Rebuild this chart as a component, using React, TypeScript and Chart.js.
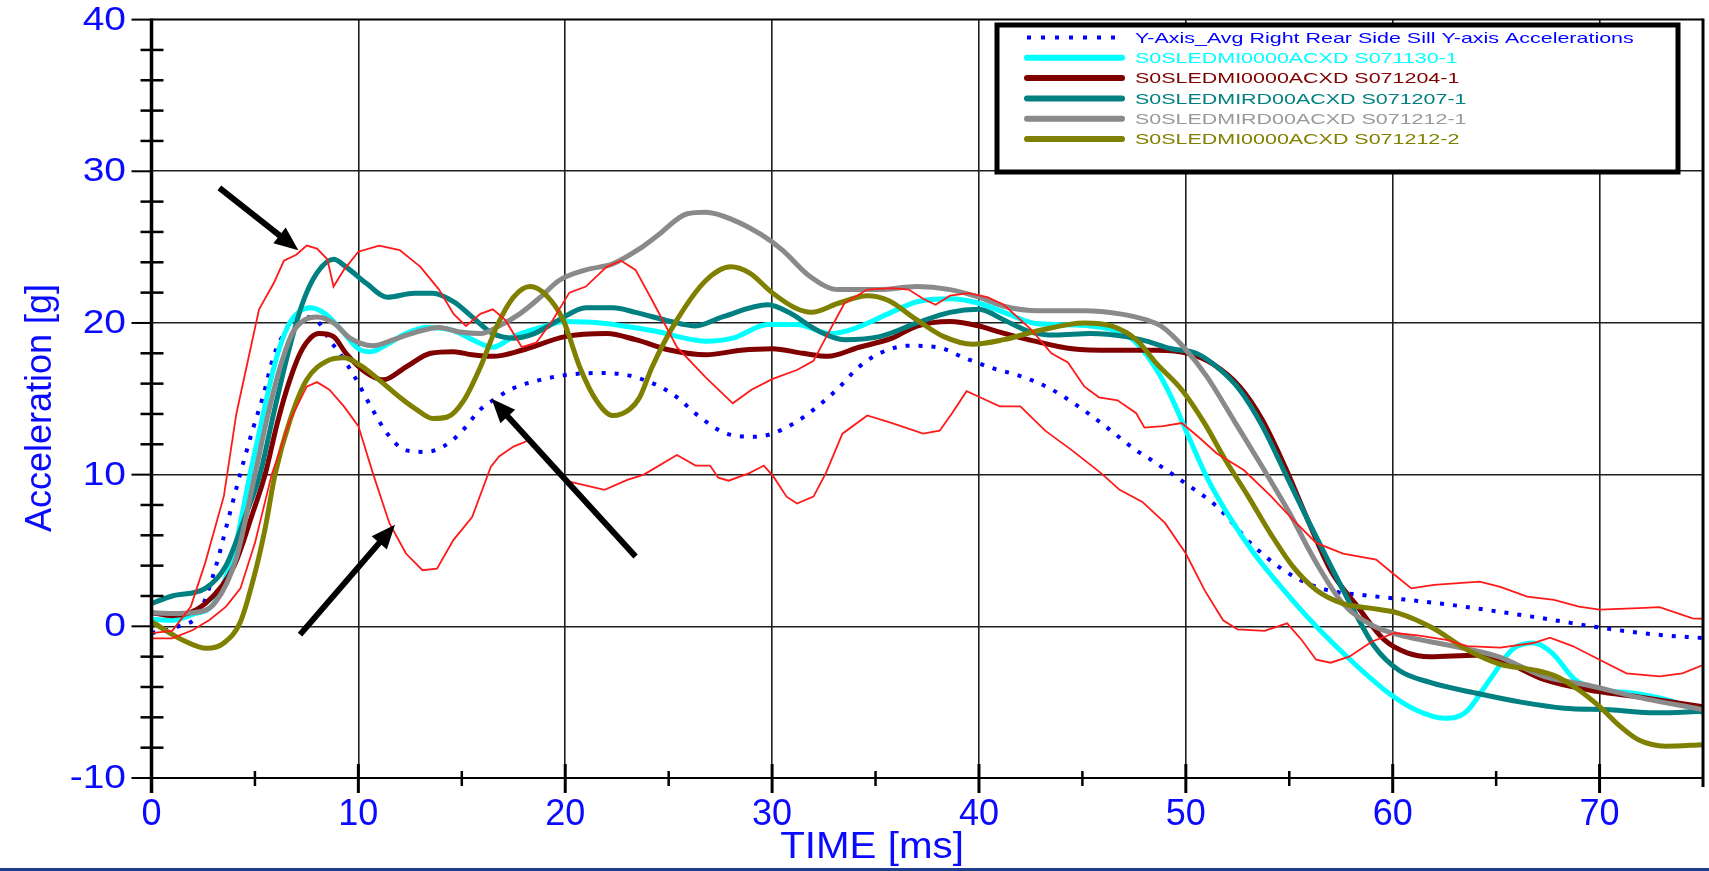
import React, { useEffect, useRef } from "react";
import { Chart, registerables } from "chart.js";

Chart.register(...registerables);

// ---------- axis ranges / ticks ----------
const X_MIN = 0;
const X_MAX = 75;
const Y_MIN = -10;
const Y_MAX = 40;
const X_GRID = [10, 20, 30, 40, 50, 60, 70];
const Y_GRID = [0, 10, 20, 30];
const X_LABELS = [0, 10, 20, 30, 40, 50, 60, 70];
const Y_LABELS = [-10, 0, 10, 20, 30, 40];
const X_MINOR = [5, 15, 25, 35, 45, 55, 65];
const Y_MINOR = [-8, -6, -4, -2, 2, 4, 6, 8, 12, 14, 16, 18, 22, 24, 26, 28, 32, 34, 36, 38];

const X_TITLE = "TIME [ms]";
const Y_TITLE = "Acceleration [g]";

// ---------- series (time ms, acceleration g) ----------
const AVG_LABEL = "Y-Axis_Avg Right Rear Side Sill Y-axis Accelerations";
const AVG_T = [0, 1.3, 2.3, 3.1, 3.7, 4.28, 4.9, 5.4, 5.9, 6.4, 6.85, 7.5, 8.1, 8.6, 9.1, 9.8, 10.6, 11.4, 12.3, 13.3, 14.1, 14.9, 15.9, 16.5, 17.5, 18.8, 20.2, 21.7, 23.2, 25.1, 26.6, 27.8, 29.2, 30, 31.2, 32.2, 33.2, 34.2, 35.2, 36.6, 38, 39.3, 40.7, 42, 43.4, 44.7, 46.1, 47.6, 48.3, 49.9, 51.5, 53.3, 55.2, 56.8, 58.5, 60, 62.9, 65.1, 67.25, 70.1, 72.7, 75];
const AVG_G = [-0.45, 0, 0.86, 3.9, 7, 10, 13, 15.2, 17.8, 19.3, 20.2, 20.4, 20, 18.9, 18, 16.5, 14.5, 12.7, 11.6, 11.5, 11.85, 12.7, 14.3, 14.9, 15.7, 16.25, 16.6, 16.7, 16.5, 15.4, 13.7, 12.7, 12.5, 12.7, 13.5, 14.5, 15.7, 17.1, 18.0, 18.5, 18.4, 17.7, 17.0, 16.5, 15.7, 14.6, 13.2, 11.6, 11, 9.5, 7.9, 5.26, 3.3, 2.4, 2.07, 1.85, 1.4, 0.97, 0.53, -0.1, -0.54, -0.77];

const CYAN_LABEL = "S0SLEDMI0000ACXD S071130-1";
const CYAN_T = [0, 1, 2, 3, 4, 4.76, 5.4, 6, 6.6, 7.2, 7.7, 8.4, 9.2, 10, 10.6, 11.4, 12.3, 13.3, 14.6, 15.5, 16.5, 17.5, 18.8, 20, 21.7, 24.2, 26.8, 28.1, 29.8, 31.2, 32.8, 33.9, 35.6, 37, 38.6, 40, 41.4, 42.6, 43.7, 45.4, 46.8, 47.6, 48.5, 49.3, 50.2, 51.1, 52, 53.3, 54.6, 56.3, 58.1, 59.8, 61.1, 62.5, 63.5, 64.7, 65.8, 66.8, 67.7, 68.8, 70.1, 71.6, 73.4, 75];
const CYAN_G = [0.45, 0.4, 0.8, 1.5, 5, 10, 14, 17.5, 19.8, 20.8, 21, 20.6, 19.5, 18.3, 18.1, 18.6, 19.3, 19.7, 19.5, 18.9, 18.4, 19.1, 19.7, 20.1, 20.0, 19.5, 18.8, 19.0, 19.9, 19.9, 19.3, 19.6, 20.6, 21.4, 21.6, 21.3, 20.6, 20, 19.9, 19.8, 19.4, 18.7, 17.1, 15.1, 12.3, 9.6, 7.45, 4.8, 2.6, 0, -2.4, -4.4, -5.5, -6.06, -5.7, -3.5, -1.5, -1.1, -1.75, -3.5, -4.2, -4.4, -4.9, -5.7];

const DRED_LABEL = "S0SLEDMI0000ACXD S071204-1";
const DRED_T = [0, 1, 2.6, 4, 4.9, 5.49, 6.1, 6.7, 7.3, 8.1, 8.8, 9.4, 10.4, 11.2, 12.3, 13.5, 14.6, 15.5, 16.5, 17.9, 20, 22, 23.4, 25.1, 26.8, 28.5, 30, 31.5, 32.7, 34.2, 35.8, 37, 38.6, 40, 41, 42.7, 44.5, 46.5, 48.6, 50.1, 51.3, 52.6, 53.7, 54.8, 55.9, 57, 58.3, 59.6, 60.7, 61.8, 64, 65.5, 67.3, 69.5, 71.6, 75];
const DRED_G = [0.9, 0.7, 1.5, 4, 7.5, 10, 13.5, 16.3, 18.3, 19.3, 19.1, 18, 16.7, 16.25, 17.1, 18, 18.1, 17.9, 17.8, 18.2, 19.1, 19.3, 18.9, 18.2, 17.9, 18.2, 18.3, 18, 17.8, 18.4, 19, 19.8, 20.1, 19.8, 19.4, 18.8, 18.3, 18.2, 18.2, 18, 17.3, 15.8, 13.6, 10.5, 7, 3.7, 1.3, -0.9, -1.75, -2, -1.9, -2.4, -3.5, -4.2, -4.6, -5.3];

const TEAL_LABEL = "S0SLEDMIRD00ACXD S071207-1";
const TEAL_T = [0, 1, 2.6, 3.6, 4.6, 5.24, 5.9, 6.6, 7.3, 8, 8.8, 9.4, 10.4, 11.4, 12.7, 13.6, 14.6, 15.5, 16.5, 17.5, 18.5, 19.7, 21, 22.3, 23.4, 25.1, 26.3, 27.6, 29.8, 30.8, 32.2, 33.5, 35.2, 37, 38.6, 40, 41.2, 42.5, 43.7, 45.4, 47.1, 48.1, 49.3, 50.5, 51.5, 52.6, 53.7, 54.8, 55.9, 57, 58.1, 59.1, 60.3, 61.8, 64, 66.2, 68.3, 70.5, 72.7, 75];
const TEAL_G = [1.5, 2.0, 2.5, 4, 7.5, 10, 14, 18, 21.3, 23.3, 24.2, 23.7, 22.6, 21.7, 21.96, 21.96, 21.4, 20.4, 19.3, 19, 19.3, 20.2, 21, 21, 20.7, 20.1, 19.8, 20.4, 21.2, 20.7, 19.5, 18.9, 19.1, 20, 20.7, 20.9, 20.2, 19.4, 19.2, 19.3, 19.1, 18.8, 18.3, 18, 17.1, 15.6, 13.2, 10.1, 7, 4, 1.1, -1.3, -2.9, -3.7, -4.4, -5, -5.4, -5.5, -5.7, -5.6];

const GRAY_LABEL = "S0SLEDMIRD00ACXD S071212-1";
const GRAY_T = [0, 1, 2, 3.1, 4.1, 5.0, 5.6, 6.2, 6.8, 7.4, 8, 8.8, 9.6, 10.7, 11.7, 12.8, 13.9, 14.9, 15.9, 16.8, 17.8, 18.8, 19.7, 21, 22.3, 23.6, 24.4, 25.9, 26.8, 28.1, 29.5, 30.5, 31.8, 33.2, 35.2, 37, 38.6, 40, 41.2, 42.9, 45.1, 46.8, 48.1, 48.8, 49.9, 51, 52.4, 53.7, 55, 56.3, 57.6, 59.1, 60.7, 62.9, 65.1, 67.3, 69.5, 71.6, 75];
const GRAY_G = [0.9, 0.85, 0.9, 1.6, 4.5, 10, 13.8, 17, 19.3, 20.2, 20.4, 20, 19, 18.5, 18.9, 19.4, 19.7, 19.4, 19.3, 19.8, 20.6, 21.7, 22.8, 23.5, 23.9, 24.9, 25.7, 27.2, 27.3, 26.8, 25.8, 24.8, 23.1, 22.2, 22.2, 22.4, 22.2, 21.7, 21.1, 20.8, 20.8, 20.6, 20.2, 19.8, 18.4, 16.5, 13.4, 10.5, 7.5, 4.2, 1.5, 0, -0.7, -1.3, -2, -3.3, -3.9, -4.6, -5.5];

const OLIVE_LABEL = "S0SLEDMI0000ACXD S071212-2";
const OLIVE_T = [0, 1.5, 2.67, 3.5, 4.3, 5, 5.5, 5.97, 6.7, 7.5, 8.5, 9.3, 10.1, 11, 12, 12.8, 13.6, 14.3, 15.1, 15.9, 16.7, 17.5, 18.3, 19.1, 19.9, 20.7, 21.5, 22.3, 23.1, 23.6, 24.2, 25.4, 26.8, 28, 28.9, 30, 31.1, 31.9, 33.2, 34.6, 35.6, 37, 38.3, 39.7, 41.2, 42.9, 45.1, 46.4, 47.6, 48.6, 49.8, 50.9, 51.9, 53, 54.1, 55.2, 56.3, 57.6, 58.9, 60.3, 61.96, 63.6, 65.2, 66.8, 67.9, 69, 70, 71, 71.9, 73.2, 75];
const OLIVE_G = [0.3, -0.9, -1.45, -1.1, 0.3, 3.5, 6.5, 10, 13.6, 16.25, 17.5, 17.7, 17.2, 16.25, 15.1, 14.3, 13.7, 13.8, 14.9, 17.1, 19.8, 21.7, 22.4, 21.8, 20.2, 17.1, 14.9, 13.9, 14.3, 15.1, 17.1, 20.2, 22.8, 23.7, 23.3, 22, 21, 20.7, 21.3, 21.8, 21.5, 20.2, 19.1, 18.6, 18.9, 19.5, 20, 19.8, 18.9, 17.3, 15.6, 13.4, 11, 8.6, 6.1, 3.9, 2.4, 1.5, 1.2, 0.86, -0.13, -1.55, -2.5, -2.87, -3.3, -4.2, -5.3, -6.6, -7.5, -7.9, -7.8];

const RED_HI_T = [0, 1, 1.9, 2.6, 3.5, 4.1, 4.8, 5.2, 5.9, 6.4, 7, 7.5, 8, 8.5, 8.8, 9.3, 10, 11, 12, 13, 13.9, 14.6, 15.2, 15.9, 16.5, 17.1, 17.9, 18.6, 19.4, 20.2, 21, 22, 22.7, 23.4, 24.2, 25.4, 26.8, 28.1, 29, 30, 31.2, 32, 32.7, 33.5, 34.6, 35.8, 36.6, 37.3, 37.9, 38.6, 39.5, 40.4, 41.2, 42.5, 43.5, 44.3, 45.1, 45.8, 46.7, 47.6, 48, 48.9, 49.8, 50.6, 51.5, 52.8, 54.1, 55.2, 56.3, 57.6, 59.2, 60, 60.9, 62, 64.2, 65.2, 66.5, 67.8, 69, 70, 71.9, 72.9, 74.5, 75];
const RED_HI_G = [-0.45, -0.3, 1.3, 4.2, 8.6, 14, 18.4, 20.9, 22.6, 24.1, 24.5, 25.1, 24.9, 24.2, 22.4, 23.5, 24.7, 25.1, 24.8, 23.7, 22.2, 20.6, 19.8, 20.6, 20.9, 20.2, 18.4, 18.7, 20.2, 22, 22.4, 23.7, 24.1, 23.5, 21.5, 18.4, 16.4, 14.7, 15.6, 16.3, 16.9, 17.5, 19.3, 21.3, 22.2, 22.3, 22.2, 21.6, 21.2, 21.8, 21.96, 21.7, 21.2, 19.6, 18.0, 17.4, 15.8, 15.1, 14.9, 14.05, 13.1, 13.2, 13.4, 12.5, 11.4, 10.3, 8.6, 7, 5.5, 4.8, 4.4, 3.5, 2.5, 2.73, 2.95, 2.6, 1.96, 1.74, 1.3, 1.1, 1.2, 1.26, 0.53, 0.5];

const RED_LO_T = [0, 1, 2, 2.8, 3.6, 4.3, 5.0, 5.81, 6.7, 7.5, 8, 8.6, 9.3, 10, 10.7, 11.5, 12.3, 13.1, 13.8, 14.6, 15.5, 16.4, 16.8, 17.5, 18.3, 19, 20, 21.9, 23, 23.8, 25.4, 26.3, 27, 27.4, 27.9, 28.9, 29.6, 30.05, 30.7, 31.2, 32, 32.6, 33.4, 34.6, 35.8, 37.3, 38.1, 38.7, 39.4, 40.05, 41, 42, 43.2, 44.5, 45.9, 46.8, 47.9, 49, 50, 50.9, 51.8, 52.5, 53.8, 54.9, 55.6, 56.3, 57, 57.9, 59, 60.1, 61.2, 62.6, 63.6, 65.2, 66.8, 67.6, 68.7, 70, 71.3, 72.9, 74, 75];
const RED_LO_G = [-0.8, -0.8, -0.24, 0.42, 1.3, 2.5, 5.5, 10, 13.6, 15.8, 16.1, 15.6, 14.5, 13.2, 10.1, 6.8, 4.8, 3.7, 3.8, 5.7, 7.2, 10.5, 11.2, 11.85, 12.3, 11.2, 9.6, 9, 9.65, 10, 11.3, 10.6, 10.6, 9.8, 9.6, 10.1, 10.6, 9.9, 8.55, 8.1, 8.55, 10.1, 12.7, 13.9, 13.4, 12.7, 12.9, 14.05, 15.5, 15.1, 14.5, 14.5, 12.9, 11.6, 10.1, 9, 8.2, 6.8, 4.8, 2.4, 0.4, -0.2, -0.3, 0.2, -0.9, -2.2, -2.4, -2, -1, -0.44, -0.6, -0.9, -1.3, -1.4, -1.1, -0.75, -1.3, -2.2, -3.1, -3.3, -3.1, -2.55];

// ---------- annotation arrows (data units: [fromX, fromY, toX, toY]) ----------
const ARROWS: number[][] = [
  [3.28, 28.9, 7.1, 24.8],
  [7.18, -0.55, 11.77, 6.7],
  [23.4, 4.6, 16.44, 15.0],
];

// ---------- colours ----------
const BLUE = "#0000ff";
const CYAN = "#00ffff";
const DRED = "#800000";
const TEAL = "#008080";
const GRAY = "#8a8a8a";
const OLIVE = "#808000";
const RED = "#ff1a1a";
const TEXT_BLUE = "#0a0aff";

const FONT = '"Liberation Sans", Arial, sans-serif';

const pts = (t: number[], g: number[]) => t.map((x, i) => ({ x, y: g[i] }));

function stretchedText(ctx: CanvasRenderingContext2D, text: string, x: number, y: number, sx: number, align: CanvasTextAlign) {
  ctx.save();
  ctx.translate(x, y);
  ctx.scale(sx, 1);
  ctx.textAlign = align;
  ctx.fillText(text, 0, 0);
  ctx.restore();
}

const decorPlugin = {
  id: "decor",
  afterDatasetsDraw(chart: any) {
    const ctx: CanvasRenderingContext2D = chart.ctx;
    const xs = chart.scales.x;
    const ys = chart.scales.y;
    const x0 = xs.getPixelForValue(X_MIN);
    const x1 = xs.getPixelForValue(X_MAX);
    const yTop = ys.getPixelForValue(Y_MAX);
    const yBot = ys.getPixelForValue(Y_MIN);
    ctx.save();
    ctx.strokeStyle = "#000";
    ctx.lineCap = "butt";

    // top frame line and major y ticks to the left
    ctx.lineWidth = 2;
    for (const v of Y_LABELS) {
      const y = ys.getPixelForValue(v);
      ctx.beginPath();
      ctx.moveTo(x0 - 20, y);
      ctx.lineTo(x0, y);
      ctx.stroke();
    }
    ctx.beginPath();
    ctx.moveTo(x0, yTop);
    ctx.lineTo(x1, yTop);
    ctx.stroke();
    // bottom axis line
    ctx.beginPath();
    ctx.moveTo(x0, yBot);
    ctx.lineTo(x1, yBot);
    ctx.stroke();

    // y minor ticks crossing the axis
    ctx.lineWidth = 2.5;
    for (const v of Y_MINOR) {
      const y = ys.getPixelForValue(v);
      ctx.beginPath();
      ctx.moveTo(x0 - 11, y);
      ctx.lineTo(x0 + 12, y);
      ctx.stroke();
    }
    // x major / minor ticks
    ctx.lineWidth = 3;
    for (const v of X_LABELS) {
      const x = xs.getPixelForValue(v);
      ctx.beginPath();
      ctx.moveTo(x, yBot - 14);
      ctx.lineTo(x, yBot + 15);
      ctx.stroke();
    }
    ctx.lineWidth = 2.5;
    for (const v of X_MINOR) {
      const x = xs.getPixelForValue(v);
      ctx.beginPath();
      ctx.moveTo(x, yBot - 7);
      ctx.lineTo(x, yBot + 8);
      ctx.stroke();
    }
    // thick y axis and right frame
    ctx.lineWidth = 3.5;
    ctx.beginPath();
    ctx.moveTo(x0, yTop - 1);
    ctx.lineTo(x0, yBot + 15);
    ctx.stroke();
    ctx.lineWidth = 3;
    ctx.beginPath();
    ctx.moveTo(x1, yTop - 1);
    ctx.lineTo(x1, yBot + 9);
    ctx.stroke();

    // arrows
    ctx.fillStyle = "#000";
    for (const a of ARROWS) {
      const ax = xs.getPixelForValue(a[0]);
      const ay = ys.getPixelForValue(a[1]);
      const bx = xs.getPixelForValue(a[2]);
      const by = ys.getPixelForValue(a[3]);
      const ang = Math.atan2(by - ay, bx - ax);
      const headLen = 24;
      const headW = 10;
      const hx = bx - headLen * Math.cos(ang);
      const hy = by - headLen * Math.sin(ang);
      ctx.lineWidth = 6;
      ctx.beginPath();
      ctx.moveTo(ax, ay);
      ctx.lineTo(hx + 2 * Math.cos(ang), hy + 2 * Math.sin(ang));
      ctx.stroke();
      ctx.beginPath();
      ctx.moveTo(bx, by);
      ctx.lineTo(hx + headW * Math.sin(ang), hy - headW * Math.cos(ang));
      ctx.lineTo(hx - headW * Math.sin(ang), hy + headW * Math.cos(ang));
      ctx.closePath();
      ctx.fill();
    }

    // tick labels
    ctx.fillStyle = TEXT_BLUE;
    ctx.textBaseline = "middle";
    ctx.font = `33px ${FONT}`;
    for (const v of Y_LABELS) {
      stretchedText(ctx, String(v), 126, ys.getPixelForValue(v) + 1, 1.18, "right");
    }
    ctx.font = `36px ${FONT}`;
    for (const v of X_LABELS) {
      stretchedText(ctx, String(v), xs.getPixelForValue(v), yBot + 37, 1.0, "center");
    }
    // axis titles
    ctx.font = `36px ${FONT}`;
    stretchedText(ctx, X_TITLE, 872, 848, 1.12, "center");
    ctx.save();
    ctx.translate(41, 408);
    ctx.rotate(-Math.PI / 2);
    ctx.textAlign = "center";
    ctx.fillText(Y_TITLE, 0, 0);
    ctx.restore();

    // legend
    const lx0 = 997, ly0 = 25, lx1 = 1678, ly1 = 172;
    ctx.fillStyle = "#fff";
    ctx.fillRect(lx0, ly0, lx1 - lx0, ly1 - ly0);
    ctx.strokeStyle = "#000";
    ctx.lineWidth = 5;
    ctx.strokeRect(lx0, ly0, lx1 - lx0, ly1 - ly0);
    const dsets = chart.data.datasets.filter((d: any) => d.label);
    dsets.forEach((d: any, i: number) => {
      const y = 37.5 + i * 20.3;
      ctx.strokeStyle = d.borderColor;
      if (d.borderDash && d.borderDash.length) {
        ctx.lineWidth = 4;
        ctx.setLineDash([4, 10]);
        ctx.lineCap = "butt";
      } else {
        ctx.lineWidth = 6;
        ctx.setLineDash([]);
        ctx.lineCap = "round";
      }
      ctx.beginPath();
      ctx.moveTo(1027, y);
      ctx.lineTo(1122, y);
      ctx.stroke();
      ctx.setLineDash([]);
      ctx.fillStyle = d.borderColor === GRAY ? "#999" : d.borderColor;
      ctx.font = `15px ${FONT}`;
      ctx.textBaseline = "middle";
      stretchedText(ctx, d.label, 1135, y + 1, 1.43, "left");
    });
    ctx.restore();
  },
};

export default function App() {
  const canvasRef = useRef<HTMLCanvasElement | null>(null);

  useEffect(() => {
    document.body.style.margin = "0";
    const canvas = canvasRef.current;
    if (!canvas) return;
    const line = (label: string | undefined, t: number[], g: number[], color: string, width: number, order: number, extra: any = {}) => ({
      label,
      data: pts(t, g),
      borderColor: color,
      backgroundColor: color,
      borderWidth: width,
      pointRadius: 0,
      fill: false,
      order,
      ...extra,
    });
    const chart = new Chart(canvas, {
      type: "line",
      data: {
        datasets: [
          line(AVG_LABEL, AVG_T, AVG_G, BLUE, 4, 8, { borderDash: [4, 9], cubicInterpolationMode: "monotone" }),
          line(CYAN_LABEL, CYAN_T, CYAN_G, CYAN, 5, 6, { cubicInterpolationMode: "monotone" }),
          line(DRED_LABEL, DRED_T, DRED_G, DRED, 5, 5, { cubicInterpolationMode: "monotone" }),
          line(TEAL_LABEL, TEAL_T, TEAL_G, TEAL, 5, 4, { cubicInterpolationMode: "monotone" }),
          line(GRAY_LABEL, GRAY_T, GRAY_G, GRAY, 5, 3, { cubicInterpolationMode: "monotone" }),
          line(OLIVE_LABEL, OLIVE_T, OLIVE_G, OLIVE, 5, 2, { cubicInterpolationMode: "monotone" }),
          line(undefined, RED_HI_T, RED_HI_G, RED, 1.8, 1, { tension: 0 }),
          line(undefined, RED_LO_T, RED_LO_G, RED, 1.8, 1, { tension: 0 }),
        ],
      },
      options: {
        responsive: false,
        animation: false,
        devicePixelRatio: 1,
        layout: { padding: { left: 151.5, right: 6, top: 19.6, bottom: 90 } },
        plugins: { legend: { display: false }, tooltip: { enabled: false }, title: { display: false } },
        scales: {
          x: {
            type: "linear",
            min: X_MIN,
            max: X_MAX,
            afterBuildTicks: (s: any) => { s.ticks = X_GRID.map((v) => ({ value: v })); },
            ticks: { display: false },
            border: { display: false },
            grid: { color: "#1e1e1e", lineWidth: 1.6, drawTicks: false },
          },
          y: {
            type: "linear",
            min: Y_MIN,
            max: Y_MAX,
            afterBuildTicks: (s: any) => { s.ticks = Y_GRID.map((v) => ({ value: v })); },
            ticks: { display: false },
            border: { display: false },
            grid: { color: "#1e1e1e", lineWidth: 1.6, drawTicks: false },
          },
        },
      },
      plugins: [decorPlugin],
    } as any);
    return () => chart.destroy();
  }, []);

  return (
    <div style={{ width: 1709, height: 871, position: "relative", background: "#fff", overflow: "hidden" }}>
      <canvas ref={canvasRef} width={1709} height={868} style={{ display: "block" }} />
      <div style={{ position: "absolute", left: 0, top: 868, width: 1709, height: 3, background: "#1f3d8c" }} />
    </div>
  );
}
